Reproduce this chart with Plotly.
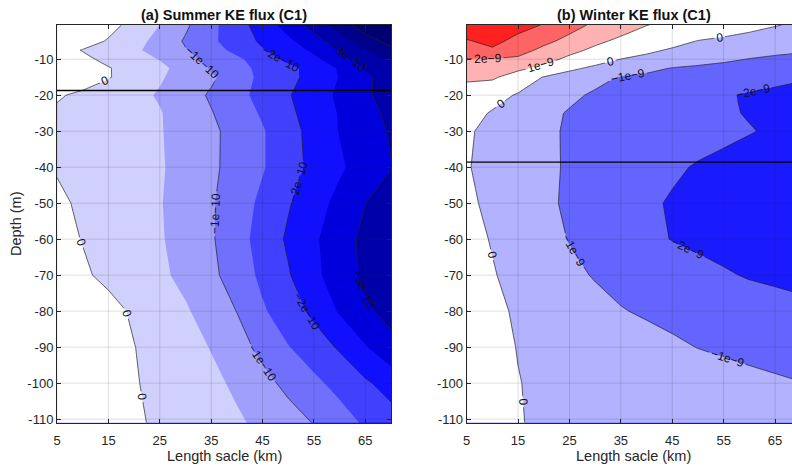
import plotly.graph_objects as go

# ---------------- data ----------------
length_km = [5, 10, 15, 20, 25, 30, 35, 40, 45, 50, 55, 60, 65, 70]
depth_m = [-0.5, -5, -7.5, -10, -12.5, -15, -20, -25, -30, -40, -50, -60, -70, -80, -90, -100, -111]

# Summer KE flux, units of 1e-10 (rows = depth, cols = length scale)
summer_unit = 1e-10
summer_flux = [
    [0.30, 0.25, 0.15, -0.143, -0.50, -0.917, -1.377, -1.798, -2.227, -2.70, -3.20, -3.72, -4.28, -4.60],
    [0.30, 0.20, -0.04, -0.328, -0.661, -1.056, -1.408, -1.747, -2.078, -2.403, -2.797, -3.283, -3.80, -4.15],
    [0.18, -0.02, -0.22, -0.42, -0.676, -0.97, -1.30, -1.633, -1.967, -2.265, -2.583, -3.02, -3.48, -3.90],
    [0.35, 0.10, -0.109, -0.31, -0.519, -0.844, -1.138, -1.404, -1.758, -2.115, -2.402, -2.784, -3.227, -3.57],
    [0.40, 0.22, 0.025, -0.183, -0.392, -0.679, -1.042, -1.343, -1.621, -1.874, -2.179, -2.55, -3.05, -3.40],
    [0.40, 0.25, 0.03, -0.212, -0.452, -0.687, -0.921, -1.275, -1.616, -1.869, -2.162, -2.52, -2.89, -3.27],
    [0.05, -0.094, -0.237, -0.38, -0.541, -0.796, -1.059, -1.353, -1.654, -1.963, -2.272, -2.588, -2.926, -3.20],
    [-0.07, -0.171, -0.272, -0.372, -0.474, -0.701, -0.973, -1.259, -1.555, -1.897, -2.219, -2.531, -2.844, -3.10],
    [-0.10, -0.193, -0.286, -0.379, -0.472, -0.667, -0.905, -1.172, -1.46, -1.816, -2.167, -2.52, -2.778, -3.05],
    [-0.03, -0.137, -0.243, -0.35, -0.457, -0.653, -0.908, -1.18, -1.461, -1.803, -2.131, -2.429, -2.716, -2.98],
    [0.074, -0.063, -0.20, -0.336, -0.473, -0.70, -0.95, -1.267, -1.606, -1.958, -2.297, -2.641, -2.993, -3.25],
    [0.132, -0.015, -0.162, -0.309, -0.456, -0.684, -0.947, -1.308, -1.692, -2.071, -2.429, -2.774, -3.121, -3.35],
    [0.217, 0.06, -0.097, -0.245, -0.412, -0.62, -0.891, -1.231, -1.606, -1.958, -2.386, -2.753, -3.10, -3.35],
    [0.40, 0.33, 0.136, -0.058, -0.252, -0.446, -0.712, -1.009, -1.44, -1.765, -2.109, -2.551, -2.919, -3.15],
    [0.40, 0.30, 0.18, 0.01, -0.16, -0.33, -0.52, -0.809, -1.132, -1.479, -1.761, -2.057, -2.467, -2.85],
    [0.40, 0.32, 0.17, 0.031, -0.111, -0.254, -0.397, -0.577, -0.852, -1.124, -1.392, -1.66, -1.926, -2.20],
    [0.40, 0.30, 0.18, 0.06, -0.065, -0.189, -0.313, -0.438, -0.60, -0.80, -1.02, -1.278, -1.571, -1.78],
]

# Winter KE flux, units of 1e-9
winter_unit = 1e-9
winter_flux = [
    [3.80, 3.90, 3.40, 2.94, 2.35, 1.83, 1.42, 1.02, 0.81, 0.615, 0.42, 0.23, 0.04, -0.12],
    [2.90, 3.30, 2.66, 2.22, 1.73, 1.18, 0.815, 0.534, 0.253, -0.03, -0.15, -0.28, -0.41, -0.55],
    [2.70, 2.85, 2.35, 1.78, 1.24, 0.82, 0.487, 0.153, -0.09, -0.26, -0.43, -0.59, -0.72, -0.85],
    [1.97, 1.95, 1.85, 1.30, 0.81, 0.41, -0.01, -0.20, -0.41, -0.61, -0.82, -1.03, -1.20, -1.35],
    [1.60, 1.40, 1.20, 0.74, 0.196, -0.19, -0.485, -0.78, -1.035, -1.17, -1.30, -1.43, -1.57, -1.70],
    [1.15, 1.13, 0.56, -0.04, -0.41, -0.78, -1.05, -1.17, -1.29, -1.41, -1.53, -1.66, -1.78, -1.90],
    [0.60, 0.31, -0.078, -0.465, -0.853, -1.103, -1.27, -1.43, -1.60, -1.77, -1.93, -2.07, -2.18, -2.30],
    [0.30, -0.072, -0.43, -0.80, -1.06, -1.20, -1.34, -1.48, -1.62, -1.76, -1.90, -2.05, -2.15, -2.27],
    [0.10, -0.22, -0.545, -0.87, -1.076, -1.20, -1.33, -1.455, -1.58, -1.71, -1.83, -1.96, -2.10, -2.25],
    [0.05, -0.247, -0.54, -0.835, -1.088, -1.29, -1.49, -1.69, -1.89, -2.06, -2.19, -2.33, -2.46, -2.60],
    [0.15, -0.178, -0.507, -0.836, -1.125, -1.375, -1.625, -1.875, -2.07, -2.22, -2.36, -2.51, -2.65, -2.80],
    [0.25, -0.047, -0.38, -0.713, -1.035, -1.285, -1.535, -1.785, -2.03, -2.17, -2.31, -2.45, -2.60, -2.75],
    [0.35, 0.052, -0.236, -0.523, -0.81, -1.058, -1.227, -1.397, -1.566, -1.736, -1.905, -2.07, -2.17, -2.28],
    [0.50, 0.14, -0.079, -0.30, -0.52, -0.74, -0.96, -1.09, -1.20, -1.31, -1.42, -1.53, -1.64, -1.75],
    [0.35, 0.13, -0.014, -0.16, -0.30, -0.45, -0.59, -0.73, -0.88, -1.015, -1.11, -1.21, -1.30, -1.40],
    [0.40, 0.20, 0.013, -0.077, -0.17, -0.26, -0.35, -0.44, -0.53, -0.62, -0.71, -0.80, -0.89, -0.98],
    [0.40, 0.22, 0.018, -0.052, -0.12, -0.19, -0.26, -0.33, -0.40, -0.47, -0.54, -0.61, -0.68, -0.75],
]

summer_mld = -18.7   # horizontal reference depth, panel (a)
winter_mld = -38.6   # horizontal reference depth, panel (b)

x_ticks = [5, 15, 25, 35, 45, 55, 65]
x_tick_labels = ["5", "15", "25", "35", "45", "55", "65"]
y_ticks = [-10, -20, -30, -40, -50, -60, -70, -80, -90, -100, -110]
y_tick_labels = ["-10", "-20", "-30", "-40", "-50", "-60", "-70", "-80", "-90", "-100", "-110"]

titles = ["(a) Summer KE flux (C1)", "(b) Winter KE flux (C1)"]
x_title = "Length sacle (km)"
y_title = "Depth (m)"

# filled bands (data units) and one colour per band, lowest band first
summer_fill = dict(start=-4.0, end=0.0, size=0.5)
summer_colors = ["#000070", "#00008a", "#0000aa", "#0000dd", "#1010ff",
                 "#4040fd", "#7070fc", "#a0a0fc", "#d0d0fc", "#ffffff"]
winter_fill = dict(start=-2.0, end=3.0, size=1.0)
winter_colors = ["#1a1aff", "#6464fe", "#b2b2fe", "#ffffff", "#ffb2b2", "#ff6464", "#ff2020"]

# labelled contour lines: every 1 unit; level ranges written as (first, last)
# (long empty ranges make plotly place several labels along each line)
summer_line_sets = [(-104.0, -1.0), (0.0, 99.0)]
winter_line_sets = [(-2.0, 97.0)]

# ---------------- figure ----------------
W, H = 792, 468
FONT = "Liberation Sans, Arial, Helvetica, sans-serif"
TXT = "#262626"


def scaled(rows, unit):
    return [[v * unit for v in r] for r in rows]


def discrete_scale(colors):
    n = len(colors) - 1
    return [[i / n, c] for i, c in enumerate(colors)]


fig = go.Figure()

panels = [
    (summer_flux, summer_unit, summer_fill, summer_line_sets, summer_colors, summer_mld, "x", "y"),
    (winter_flux, winter_unit, winter_fill, winter_line_sets, winter_colors, winter_mld, "x2", "y2"),
]

for flux, unit, fl, line_sets, cols, mld, xa, ya in panels:
    z = scaled(flux, unit)
    fig.add_trace(go.Contour(
        x=length_km, y=depth_m, z=z, xaxis=xa, yaxis=ya,
        autocontour=False,
        contours=dict(start=fl["start"] * unit, end=fl["end"] * unit, size=fl["size"] * unit,
                      coloring="fill", showlines=False),
        colorscale=discrete_scale(cols), showscale=False,
        line=dict(width=0, smoothing=0), hoverinfo="skip",
    ))
    for lo, hi in line_sets:
        fig.add_trace(go.Contour(
            x=length_km, y=depth_m, z=z, xaxis=xa, yaxis=ya,
            autocontour=False,
            contours=dict(start=lo * unit, end=hi * unit, size=unit,
                          coloring="none", showlines=True, showlabels=True,
                          labelformat="~g",
                          labelfont=dict(family=FONT, size=12, color="#111111")),
            line=dict(width=0.7, color="#222222", smoothing=0),
            showscale=False, hoverinfo="skip",
        ))
    fig.add_trace(go.Scatter(
        x=[length_km[0], length_km[-1]], y=[mld, mld], xaxis=xa, yaxis=ya,
        mode="lines", line=dict(color="black", width=1.4), hoverinfo="skip",
    ))

# grid lines drawn above the filled contours (as in the reference)
shapes = []
for xr, yr in [("x", "y"), ("x2", "y2")]:
    for xv in x_ticks:
        shapes.append(dict(type="line", xref=xr, yref=f"{yr} domain", x0=xv, x1=xv, y0=0, y1=1,
                           line=dict(color="rgba(38,38,38,0.15)", width=1), layer="above"))
    for yv in y_ticks:
        shapes.append(dict(type="line", xref=f"{xr} domain", yref=yr, x0=0, x1=1, y0=yv, y1=yv,
                           line=dict(color="rgba(38,38,38,0.15)", width=1), layer="above"))

ax_common = dict(showgrid=False, zeroline=False, showline=True, linecolor=TXT, linewidth=1,
                 ticks="inside", ticklen=4, tickcolor=TXT,
                 tickfont=dict(family=FONT, size=13, color=TXT))

y_dom = [1 - 422.7 / H, 1 - 25 / H]
x1_dom = [57 / W, 391 / W]
x2_dom = [466.7 / W, 1.0]

fig.update_layout(
    width=W, height=H, margin=dict(l=0, r=0, t=0, b=0, autoexpand=False),
    paper_bgcolor="white", plot_bgcolor="white", showlegend=False,
    font=dict(family=FONT, size=13, color=TXT),
    xaxis=dict(domain=x1_dom, range=[5, 70], anchor="y", tickvals=x_ticks, ticktext=x_tick_labels,
               mirror="ticks", ticklabelstandoff=6, **ax_common),
    yaxis=dict(domain=y_dom, range=[-111, -0.5], anchor="x", tickvals=y_ticks, ticktext=y_tick_labels,
               mirror="ticks", **ax_common),
    xaxis2=dict(domain=x2_dom, range=[5, 68.3], anchor="y2", tickvals=x_ticks, ticktext=x_tick_labels,
                mirror="ticks", ticklabelstandoff=6, **ax_common),
    yaxis2=dict(domain=y_dom, range=[-111, -0.5], anchor="x2", tickvals=y_ticks, ticktext=y_tick_labels,
                mirror=False, **ax_common),
    shapes=shapes,
)

ann = []
title_cx = [224 / W, 633.7 / W]
for t, cx in zip(titles, title_cx):
    ann.append(dict(text=f"<b>{t}</b>", x=cx, y=1 - 15 / H, xref="paper", yref="paper",
                    xanchor="center", yanchor="middle", showarrow=False,
                    font=dict(family=FONT, size=14.5, color="#111111")))
    ann.append(dict(text=x_title, x=cx, y=1 - 456 / H, xref="paper", yref="paper",
                    xanchor="center", yanchor="middle", showarrow=False,
                    font=dict(family=FONT, size=14.5, color=TXT)))
ann.append(dict(text=y_title, x=16 / W, y=1 - 224 / H, xref="paper", yref="paper",
                xanchor="center", yanchor="middle", textangle=-90, showarrow=False,
                font=dict(family=FONT, size=14.5, color=TXT)))
fig.update_layout(annotations=ann)

fig.write_html("out.html")
